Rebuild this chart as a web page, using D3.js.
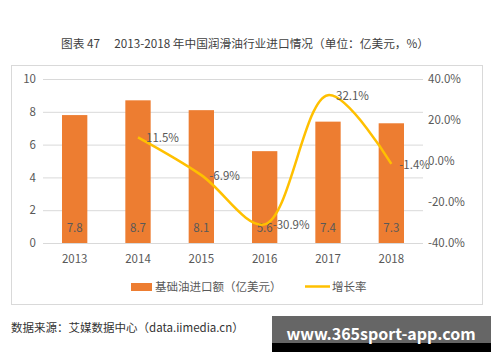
<!DOCTYPE html>
<html><head><meta charset="utf-8">
<script src="https://cdn.jsdelivr.net/npm/d3@7"></script>
<style>body{margin:0;background:#fff}svg{display:block}text{font-family:"Noto Sans CJK SC","Noto Sans",sans-serif}</style>
</head><body><svg id="c" width="500" height="362"></svg>
<script>
const years = ["2013","2014","2015","2016","2017","2018"];
const imports = [7.8, 8.7, 8.1, 5.6, 7.4, 7.3];
const growthYears = ["2014","2015","2016","2017","2018"];
const growth = [11.5, -6.9, -30.9, 32.1, -1.4];
const leftTicks = [0, 2, 4, 6, 8, 10];
const rightTicks = [-40, -20, 0, 20, 40];

const svg = d3.select("#c");
svg.append("text").attr("x", 245).attr("y", 48).attr("text-anchor", "middle")
  .attr("font-size", 11.7).attr("fill", "#404040")
  .text("图表 47\u2003 2013-2018 年中国润滑油行业进口情况（单位：亿美元，%）");

svg.append("rect").attr("x", 11.5).attr("y", 65.5).attr("width", 471).attr("height", 239)
  .attr("fill", "none").attr("stroke", "#d9d9d9");

const x = d3.scaleBand().domain(years).range([43, 423]).paddingInner(0.6).paddingOuter(0.3);
const yL = d3.scaleLinear().domain([0, 10]).range([243, 79]);
const yR = d3.scaleLinear().domain([-40, 40]).range([243, 79]);

// gridlines
svg.append("g").selectAll("line").data(leftTicks).join("line")
  .attr("x1", 43).attr("x2", 423).attr("y1", d => yL(d) + 0.5).attr("y2", d => yL(d) + 0.5)
  .attr("stroke", "#d9d9d9").attr("stroke-width", 1);

const axL = svg.append("g").attr("transform", "translate(36,0)")
  .call(d3.axisLeft(yL).tickValues(leftTicks).tickSize(0).tickPadding(0).tickFormat(d3.format("d")));
axL.select(".domain").remove();
axL.selectAll("text").attr("font-size", 11.5).attr("fill", "#595959");

const axR = svg.append("g").attr("transform", "translate(428,0)")
  .call(d3.axisRight(yR).tickValues(rightTicks).tickSize(0).tickPadding(0).tickFormat(d => d.toFixed(1) + "%"));
axR.select(".domain").remove();
axR.selectAll("text").attr("font-size", 11.5).attr("fill", "#595959");

const axB = svg.append("g").attr("transform", "translate(0,255)")
  .call(d3.axisBottom(x).tickSize(0).tickPadding(0));
axB.select(".domain").remove();
axB.selectAll("text").attr("font-size", 11.5).attr("fill", "#595959");

// bars
svg.append("g").selectAll("rect").data(imports).join("rect")
  .attr("x", (d, i) => x(years[i])).attr("width", x.bandwidth())
  .attr("y", d => yL(d)).attr("height", d => yL(0) - yL(d))
  .attr("fill", "#ED7D31");
svg.append("g").selectAll("text").data(imports).join("text")
  .attr("x", (d, i) => x(years[i]) + x.bandwidth() / 2).attr("y", 232)
  .attr("text-anchor", "middle").attr("font-size", 11.5).attr("fill", "#595959")
  .text(d => d.toFixed(1));

// line
const pts = growth.map((g, i) => [x(growthYears[i]) + x.bandwidth() / 2, yR(g)]);
svg.append("path").datum(pts)
  .attr("d", d3.line().curve(d3.curveCatmullRom.alpha(0.5)))
  .attr("fill", "none").attr("stroke", "#FFC000").attr("stroke-width", 2.5);
svg.append("g").selectAll("text").data(growth).join("text")
  .attr("x", (d, i) => pts[i][0] + 8).attr("y", (d, i) => pts[i][1] + 5)
  .attr("font-size", 11.5).attr("fill", "#595959")
  .text(d => d.toFixed(1) + "%");

// legend
svg.append("rect").attr("x", 131).attr("y", 283).attr("width", 21).attr("height", 8).attr("fill", "#ED7D31");
svg.append("text").attr("x", 155).attr("y", 291).attr("font-size", 11.5).attr("fill", "#595959").text("基础油进口额（亿美元）");
svg.append("line").attr("x1", 305).attr("x2", 330).attr("y1", 286.5).attr("y2", 286.5).attr("stroke", "#FFC000").attr("stroke-width", 2.5);
svg.append("text").attr("x", 332).attr("y", 291).attr("font-size", 11.5).attr("fill", "#595959").text("增长率");

// source
svg.append("text").attr("x", 11).attr("y", 332).attr("font-size", 11.5).attr("fill", "#333").text("数据来源：艾媒数据中心（data.iimedia.cn）");

// watermark
svg.append("rect").attr("x", 272).attr("y", 316).attr("width", 219).attr("height", 36).attr("fill", "#000");
svg.append("rect").attr("x", 272).attr("y", 316).attr("width", 219).attr("height", 27).attr("fill", "#666");
svg.append("text").attr("x", 381).attr("y", 340).attr("text-anchor", "middle").attr("font-size", 16)
  .attr("font-weight", "bold").attr("fill", "#fff").attr("font-family", "'Open Sans',sans-serif").text("www.365sport-app.com");
</script></body></html>
